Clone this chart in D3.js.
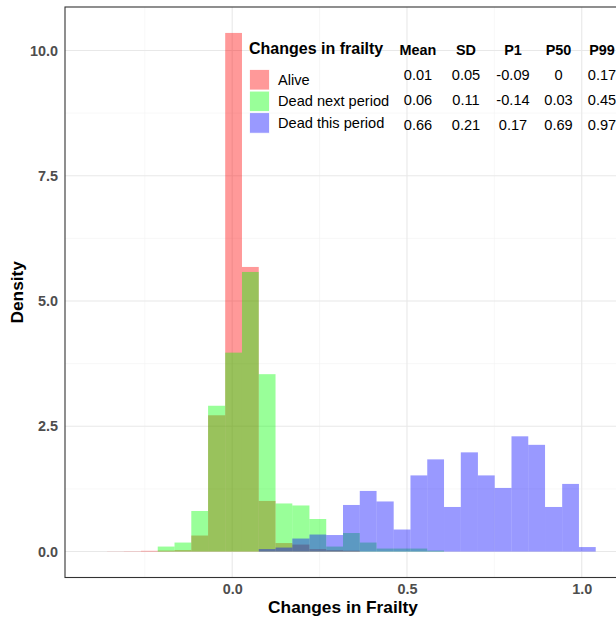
<!DOCTYPE html>
<html><head><meta charset="utf-8">
<script src="https://cdn.jsdelivr.net/npm/d3@7"></script>
<style>
html,body{margin:0;padding:0;background:#fff;}
svg{display:block;font-family:"Liberation Sans",Arial,Helvetica,sans-serif;}
</style></head>
<body><svg id="chart" width="616" height="618"></svg>
<script>
// ---- data ----
const binEdges = [-0.406,-0.358,-0.310,-0.261,-0.213,-0.165,-0.117,-0.069,-0.020,0.028,
  0.076,0.124,0.172,0.221,0.269,0.317,0.365,0.413,0.462,0.510,
  0.558,0.606,0.654,0.703,0.751,0.799,0.847,0.895,0.944,0.992,1.040];
const alive    = [0,0.003,0.006,0.015,0.02,0.03,0.32,2.72,10.35,5.68,1.01,0.17,0.14,0.05,0.03,0.02,0,0,0,0,0,0,0,0,0,0,0,0,0,0];
const deadNext = [0,0,0,0,0.10,0.18,0.81,2.91,3.97,5.58,3.54,0.96,0.92,0.65,0.10,0.37,0.18,0.06,0.06,0.06,0.02,0,0,0,0,0,0,0,0,0];
const deadThis = [0,0,0,0,0,0,0,0,0,0,0.05,0.08,0.26,0.34,0.33,0.93,1.21,1.00,0.44,1.52,1.84,0.89,1.98,1.52,1.27,2.30,2.13,0.89,1.35,0.09];
const seriesNames = ["Alive","Dead next period","Dead this period"];
const seriesColors = ["#FF0000","#00FF00","#0000FF"];
const xTicks = [0.0,0.5,1.0];
const yTicks = [0.0,2.5,5.0,7.5,10.0];
const xMinor = [-0.25,0.25,0.75];
const yMinor = [1.25,3.75,6.25,8.75];
const statHeaders = ["Mean","SD","P1","P50","P99"];
const statRows = [
  ["0.01","0.05","-0.09","0","0.17"],
  ["0.06","0.11","-0.14","0.03","0.45"],
  ["0.66","0.21","0.17","0.69","0.97"]
];

// ---- layout ----
const svg = d3.select("#chart");
const L = 65, R = 621, T = 7, B = 577.5;
const allSeries = [alive, deadNext, deadThis];
const xMin = binEdges[0], xMax = binEdges[binEdges.length-1];
const xPad = (xMax - xMin)*0.05;
const yMaxV = d3.max(allSeries.flat());
const x = d3.scaleLinear().domain([xMin - xPad, xMax + xPad]).range([L, R]);
const y = d3.scaleLinear().domain([-yMaxV*0.05, yMaxV*1.05]).range([B, T]);

const clip = svg.append("defs").append("clipPath").attr("id","pc")
  .append("rect").attr("x",L).attr("y",T).attr("width",R-L).attr("height",B-T);

const grid = svg.append("g").attr("clip-path","url(#pc)");
grid.selectAll(".xmin").data(xMinor).enter().append("line")
  .attr("x1",d=>x(d)).attr("x2",d=>x(d)).attr("y1",T).attr("y2",B)
  .attr("stroke","#F2F2F2").attr("stroke-width",0.6);
grid.selectAll(".ymin").data(yMinor).enter().append("line")
  .attr("y1",d=>y(d)).attr("y2",d=>y(d)).attr("x1",L).attr("x2",R)
  .attr("stroke","#F2F2F2").attr("stroke-width",0.6);
grid.selectAll(".xmaj").data(xTicks).enter().append("line")
  .attr("x1",d=>x(d)).attr("x2",d=>x(d)).attr("y1",T).attr("y2",B)
  .attr("stroke","#E8E8E8").attr("stroke-width",1.1);
grid.selectAll(".ymaj").data(yTicks).enter().append("line")
  .attr("y1",d=>y(d)).attr("y2",d=>y(d)).attr("x1",L).attr("x2",R)
  .attr("stroke","#E8E8E8").attr("stroke-width",1.1);

// bars
const bars = svg.append("g").attr("clip-path","url(#pc)");
allSeries.forEach((vals, si) => {
  bars.append("g").selectAll("rect").data(vals).enter().append("rect")
    .attr("x",(d,i)=>x(binEdges[i]))
    .attr("width",(d,i)=>x(binEdges[i+1])-x(binEdges[i]))
    .attr("y",d=>y(d))
    .attr("height",d=>y(0)-y(d))
    .attr("fill",seriesColors[si]).attr("fill-opacity",0.4);
});

// border
svg.append("rect").attr("x",L).attr("y",T).attr("width",R-L).attr("height",B-T)
  .attr("fill","none").attr("stroke","#333333").attr("stroke-width",1.1);

// axes labels
const xAxis = d3.axisBottom(x).tickValues(xTicks).tickFormat(d3.format(".1f")).tickSize(0).tickPadding(6);
const gx = svg.append("g").attr("transform",`translate(0,${B})`).call(xAxis);
gx.select(".domain").remove();
gx.selectAll("text").attr("font-size",14.4).attr("font-weight","bold").attr("fill","#4D4D4D")
  .attr("font-family","Liberation Sans, Arial, sans-serif");
const yAxis = d3.axisLeft(y).tickValues(yTicks).tickFormat(d3.format(".1f")).tickSize(0).tickPadding(7);
const gy = svg.append("g").attr("transform",`translate(${L},0)`).call(yAxis);
gy.select(".domain").remove();
gy.selectAll("text").attr("font-size",14.4).attr("font-weight","bold").attr("fill","#4D4D4D")
  .attr("font-family","Liberation Sans, Arial, sans-serif");

svg.append("text").attr("x",(L+R)/2).attr("y",613).attr("text-anchor","middle")
  .attr("font-size",17.3).attr("font-weight","bold").attr("fill","#000").text("Changes in Frailty");
svg.append("text").attr("transform",`translate(23,${(T+B)/2}) rotate(-90)`).attr("text-anchor","middle")
  .attr("font-size",17.3).attr("font-weight","bold").attr("fill","#000").text("Density");

// legend
const lg = svg.append("g");
lg.append("text").attr("x",249).attr("y",53.5).attr("font-size",16).attr("font-weight","bold").text("Changes in frailty");
seriesNames.forEach((nm,i)=>{
  const ky = 69.5 + i*21.6;
  lg.append("rect").attr("x",249.5).attr("y",ky).attr("width",20).attr("height",20.5)
    .attr("fill",seriesColors[i]).attr("fill-opacity",0.4).attr("stroke","#fff").attr("stroke-width",0.8);
  lg.append("text").attr("x",278).attr("y",ky+15).attr("font-size",14.6).attr("fill","#000").text(nm);
});

// stats table
const colX = [418, 466, 513, 558.5, 602];
statHeaders.forEach((h,j)=>{
  svg.append("text").attr("x",colX[j]).attr("y",55).attr("text-anchor","middle")
    .attr("font-size",14.4).attr("font-weight","bold").text(h);
});
statRows.forEach((row,i)=>{
  row.forEach((v,j)=>{
    svg.append("text").attr("x",colX[j]).attr("y",79.5+i*25).attr("text-anchor","middle")
      .attr("font-size",14.6).attr("fill","#000").text(v);
  });
});
</script></body></html>
